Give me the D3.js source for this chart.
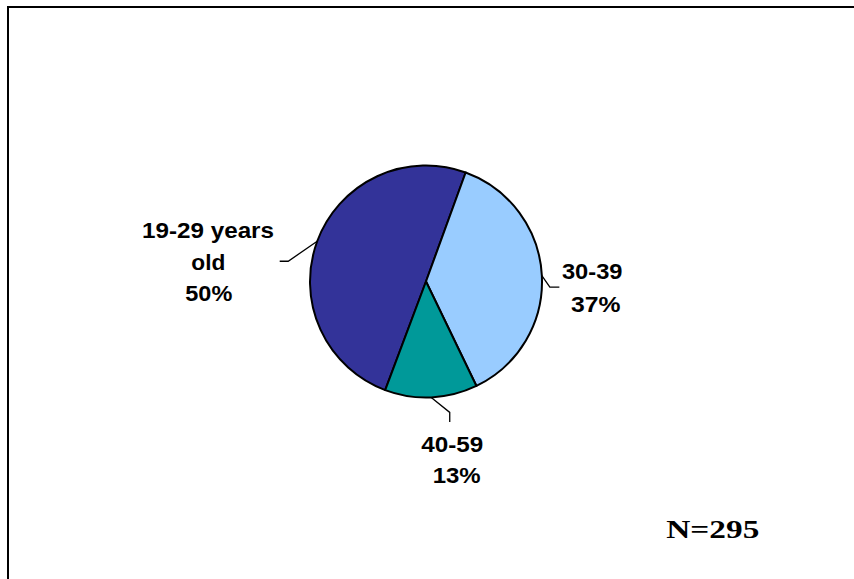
<!DOCTYPE html>
<html>
<head>
<meta charset="utf-8">
<script src="https://cdn.jsdelivr.net/npm/d3@7"></script>
<style>
  html, body { margin: 0; padding: 0; background: #fff; }
  svg { display: block; }
</style>
</head>
<body>
<svg id="chart" width="854" height="579"></svg>
<script>
// ---- data ----
const categories = ["19-29 years old", "30-39", "40-59"];
const counts = [147, 110, 38];          // N = 295
const percentLabels = ["50%", "37%", "13%"];
const colors = ["#333399", "#99CCFF", "#009999"];
const totalLabel = "N=295";

// ---- layout ----
const svg = d3.select("#chart");
const W = 854, H = 579;
const cx = 426, cy = 281.5, R = 116;

// outer border (extends past right/bottom edge)
svg.append("rect")
  .attr("x", 8).attr("y", 7)
  .attr("width", W + 20).attr("height", H + 20)
  .attr("fill", "none").attr("stroke", "#000").attr("stroke-width", 2);

const start = 200.6 * Math.PI / 180;
const pie = d3.pie().sort(null).value(d => d)
  .startAngle(start).endAngle(start + 2 * Math.PI);
const arcs = pie(counts);
const arc = d3.arc().innerRadius(0).outerRadius(R);

const g = svg.append("g").attr("transform", `translate(${cx},${cy})`);
g.selectAll("path.slice")
  .data(arcs)
  .join("path")
  .attr("class", "slice")
  .attr("d", arc)
  .attr("fill", (d, i) => colors[i])
  .attr("stroke", "#000")
  .attr("stroke-width", 2)
  .attr("stroke-linejoin", "round");

// label layout: leader elbow offsets and text lines
const labelLayout = [
  { elbow: [-29, 20], end: [-37.5, 20],
    lines: [ {t: "19-29 years", x: 208, y: 238.3, w: 132},
             {t: "old", x: 208.3, y: 270.3, w: 34},
             {t: percentLabels[0], x: 208.8, y: 300.5, w: 47} ] },
  { elbow: [8, 11.5], end: [17.5, 11.5],
    lines: [ {t: "30-39", x: 592.2, y: 279.3, w: 60.5},
             {t: percentLabels[1], x: 595.8, y: 312.3, w: 49.5} ] },
  { elbow: [18.5, 15], end: [18.5, 24.5],
    lines: [ {t: "40-59", x: 452.2, y: 451.7, w: 62},
             {t: percentLabels[2], x: 456.7, y: 483.3, w: 48} ] }
];

arcs.forEach((d, i) => {
  const mid = (d.startAngle + d.endAngle) / 2;
  const px = cx + R * Math.sin(mid), py = cy - R * Math.cos(mid);
  const L = labelLayout[i];
  svg.append("polyline")
    .attr("points", [[px, py], [px + L.elbow[0], py + L.elbow[1]], [px + L.end[0], py + L.end[1]]].map(p => p.join(",")).join(" "))
    .attr("fill", "none").attr("stroke", "#000").attr("stroke-width", 1.3);
  L.lines.forEach(l => {
    svg.append("text")
      .attr("x", l.x).attr("y", l.y)
      .attr("text-anchor", "middle")
      .attr("font-family", "Arial, 'Liberation Sans', Helvetica, sans-serif")
      .attr("font-weight", "bold")
      .attr("font-size", 22.5)
      .attr("textLength", l.w)
      .attr("lengthAdjust", "spacingAndGlyphs")
      .attr("fill", "#000")
      .text(l.t);
  });
});

svg.append("text")
  .attr("x", 712.8).attr("y", 538.3)
  .attr("text-anchor", "middle")
  .attr("font-family", "'Times New Roman', 'Liberation Serif', serif")
  .attr("font-weight", "bold")
  .attr("font-size", 25.5)
  .attr("textLength", 93)
  .attr("lengthAdjust", "spacingAndGlyphs")
  .attr("fill", "#000")
  .text(totalLabel);
</script>
</body>
</html>
